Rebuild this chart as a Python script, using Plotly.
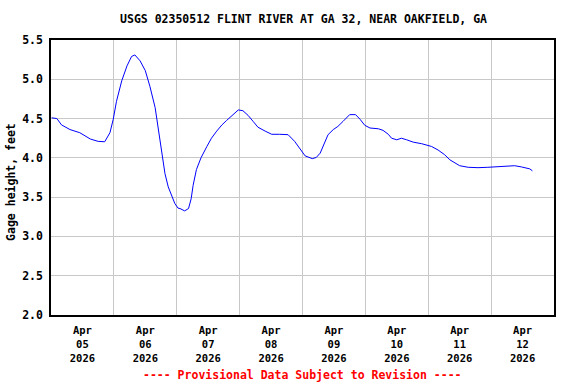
import plotly.graph_objects as go

# ---- data ----
times = [
    "2026-04-05 00:15", "2026-04-05 02:15", "2026-04-05 04:00", "2026-04-05 07:15",
    "2026-04-05 11:00", "2026-04-05 15:00", "2026-04-05 18:00", "2026-04-05 20:30",
    "2026-04-05 22:30", "2026-04-05 23:45", "2026-04-06 01:00", "2026-04-06 03:00",
    "2026-04-06 05:00", "2026-04-06 06:45", "2026-04-06 08:00", "2026-04-06 10:00",
    "2026-04-06 12:00", "2026-04-06 13:45", "2026-04-06 15:45", "2026-04-06 17:00",
    "2026-04-06 18:15", "2026-04-06 19:30", "2026-04-06 20:45", "2026-04-06 22:45",
    "2026-04-06 23:15", "2026-04-07 00:30", "2026-04-07 01:15", "2026-04-07 03:00",
    "2026-04-07 04:30", "2026-04-07 05:30", "2026-04-07 06:15", "2026-04-07 07:30",
    "2026-04-07 09:15", "2026-04-07 11:30", "2026-04-07 13:15", "2026-04-07 15:15",
    "2026-04-07 17:15", "2026-04-07 19:00", "2026-04-07 21:00", "2026-04-07 23:30",
    "2026-04-08 01:15", "2026-04-08 03:15", "2026-04-08 05:15", "2026-04-08 07:00",
    "2026-04-08 09:45", "2026-04-08 12:15", "2026-04-08 15:15", "2026-04-08 18:30",
    "2026-04-08 21:00", "2026-04-08 23:00", "2026-04-09 01:00", "2026-04-09 03:45",
    "2026-04-09 05:15", "2026-04-09 06:45", "2026-04-09 08:15", "2026-04-09 09:45",
    "2026-04-09 11:45", "2026-04-09 13:30", "2026-04-09 15:30", "2026-04-09 18:00",
    "2026-04-09 20:15", "2026-04-09 22:00", "2026-04-09 23:45", "2026-04-10 01:45",
    "2026-04-10 05:00", "2026-04-10 06:45", "2026-04-10 08:45", "2026-04-10 10:00",
    "2026-04-10 12:00", "2026-04-10 13:45", "2026-04-10 15:45", "2026-04-10 18:15",
    "2026-04-10 21:30", "2026-04-11 00:15", "2026-04-11 01:15", "2026-04-11 03:45",
    "2026-04-11 06:15", "2026-04-11 08:15", "2026-04-11 10:15", "2026-04-11 12:00",
    "2026-04-11 15:15", "2026-04-11 19:00", "2026-04-11 22:45", "2026-04-12 02:45",
    "2026-04-12 06:30", "2026-04-12 09:00", "2026-04-12 11:30", "2026-04-12 13:30",
    "2026-04-12 14:45", "2026-04-12 15:45",
]
gage_ft = [
    4.51, 4.50, 4.42, 4.36,
    4.32, 4.24, 4.21, 4.205,
    4.32, 4.49, 4.72, 4.98,
    5.17, 5.29, 5.31, 5.235,
    5.11, 4.91, 4.64, 4.38,
    4.08, 3.80, 3.63, 3.46,
    3.42, 3.36, 3.355, 3.325,
    3.355, 3.48, 3.65, 3.85,
    4.00, 4.145, 4.25, 4.34,
    4.42, 4.475, 4.54, 4.61,
    4.60, 4.54, 4.46, 4.39,
    4.34, 4.30, 4.30, 4.295,
    4.21, 4.12, 4.025, 3.99,
    4.005, 4.06, 4.19, 4.295,
    4.36, 4.40, 4.465, 4.55,
    4.55, 4.49, 4.415, 4.38,
    4.37, 4.35, 4.30, 4.25,
    4.23, 4.25, 4.23, 4.20,
    4.18, 4.155, 4.145, 4.10,
    4.04, 3.975, 3.93, 3.90,
    3.88, 3.875, 3.88, 3.89,
    3.89, 3.90, 3.885, 3.875,
    3.86, 3.835,
]

label_ticks = ["2026-04-05 12:00", "2026-04-06 12:00", "2026-04-07 12:00", "2026-04-08 12:00",
               "2026-04-09 12:00", "2026-04-10 12:00", "2026-04-11 12:00", "2026-04-12 12:00"]
label_text = ["Apr<br>05<br>2026", "Apr<br>06<br>2026", "Apr<br>07<br>2026", "Apr<br>08<br>2026",
              "Apr<br>09<br>2026", "Apr<br>10<br>2026", "Apr<br>11<br>2026", "Apr<br>12<br>2026"]
grid_days = ["2026-04-06", "2026-04-07", "2026-04-08", "2026-04-09",
             "2026-04-10", "2026-04-11", "2026-04-12"]
x_range = ["2026-04-05 00:00", "2026-04-13 00:00"]
y_range = [2.0, 5.5]

title_text = "USGS 02350512 FLINT RIVER AT GA 32, NEAR OAKFIELD, GA"
y_title = "Gage height, feet"
footer = "---- Provisional Data Subject to Revision ----"

FONT = "DejaVu Sans Mono"
GRID = "#c8c8c8"

fig = go.Figure()
fig.add_trace(go.Scatter(x=times, y=gage_ft, mode="lines",
                         line=dict(color="#0000ff", width=1), hoverinfo="skip"))

fig.update_layout(
    width=576, height=384,
    margin=dict(l=51, r=22, t=40, b=69, autoexpand=False),
    paper_bgcolor="white", plot_bgcolor="white",
    showlegend=False,
    font=dict(family=FONT, size=11.5, color="black", weight="bold"),
    title=dict(text=title_text, x=0.527, xanchor="center", y=0.95, yanchor="middle",
               font=dict(family=FONT, size=11.5, color="black", weight="bold")),
    xaxis=dict(
        range=x_range, type="date", automargin=False,
        tickmode="array", tickvals=label_ticks, ticktext=label_text,
        showgrid=False, ticks="", ticklabelstandoff=5,
        tickfont=dict(family=FONT, size=10.5, color="black", weight="bold"),
        showline=True, mirror=True, linecolor="black", linewidth=1.5,
        minor=dict(tickmode="array", tickvals=grid_days, showgrid=True,
                   gridcolor=GRID, gridwidth=1, ticks=""),
        zeroline=False,
    ),
    yaxis=dict(
        range=y_range, dtick=0.5, tick0=2.0, tickformat=".1f", automargin=False,
        showgrid=True, gridcolor=GRID, gridwidth=1, ticks="",
        ticklabelstandoff=4,
        tickfont=dict(family=FONT, size=11.5, color="black", weight="bold"),
        showline=True, mirror=True, linecolor="black", linewidth=1.5,
        zeroline=False,
    ),
    annotations=[
        dict(text=y_title, xref="paper", yref="paper", x=-0.0795, y=0.484,
             xanchor="center", yanchor="middle", textangle=-90, showarrow=False,
             font=dict(family=FONT, size=11.5, color="black", weight="bold")),
        dict(text=footer, xref="paper", yref="paper", x=0.5, y=-0.218,
             xanchor="center", yanchor="middle", showarrow=False,
             font=dict(family=FONT, size=11.5, color="red", weight="bold")),
    ],
)

fig.write_html("out.html", config={"displayModeBar": False},
               post_script="document.body.style.margin='0';")
